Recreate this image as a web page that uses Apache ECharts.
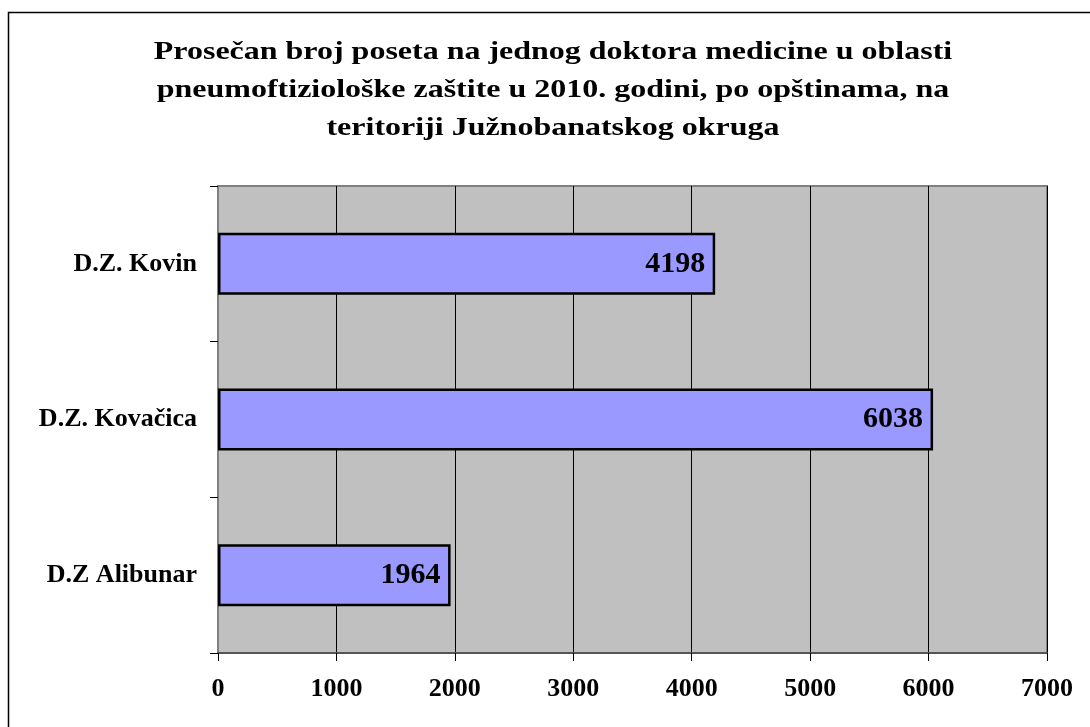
<!DOCTYPE html>
<html>
<head>
<meta charset="utf-8">
<script src="https://cdn.jsdelivr.net/npm/echarts@6/dist/echarts.min.js"></script>
<style>
  html, body { margin: 0; padding: 0; background: #fff; }
  #chart { width: 1090px; height: 727px; }
</style>
</head>
<body>
<div id="chart"></div>
<script>
// categories bottom-to-top (ECharts category y axis starts at the bottom)
const categories = ["D.Z Alibunar", "D.Z. Kovačica", "D.Z. Kovin"];
const visits = [1964, 6038, 4198];
const xTicks = [0, 1000, 2000, 3000, 4000, 5000, 6000, 7000];

const titleLines = [
  "Prosečan broj poseta na jednog doktora medicine u oblasti",
  "pneumoftiziološke zaštite u 2010. godini, po opštinama, na",
  "teritoriji Južnobanatskog okruga",
];

const FONT = "Liberation Serif";

const chart = echarts.init(document.getElementById("chart"));

// the title in the original is set wide, so it is drawn as stretched text
const titleGraphics = titleLines.map((line, i) => ({
  type: "text",
  x: 553,
  y: 52 + i * 38,
  scaleX: 1.23,
  silent: true,
  style: {
    text: line,
    align: "center",
    verticalAlign: "middle",
    fill: "#000",
    font: "bold 26px '" + FONT + "'",
  },
}));

chart.setOption({
  animation: false,
  backgroundColor: "#fff",
  textStyle: { fontFamily: FONT },
  graphic: [
    {
      type: "rect",
      shape: { x: 8.5, y: 12.5, width: 1200, height: 900 },
      style: { fill: "none", stroke: "#000", lineWidth: 1.5 },
      silent: true,
    },
    ...titleGraphics,
  ],
  grid: {
    left: 218,
    top: 186,
    right: 43,
    bottom: 74,
    show: true,
    backgroundColor: "#c0c0c0",
    borderColor: "#808080",
    borderWidth: 2,
  },
  xAxis: {
    type: "value",
    min: xTicks[0],
    max: xTicks[xTicks.length - 1],
    interval: 1000,
    axisLine: { show: true, lineStyle: { color: "#555", width: 2 } },
    axisTick: { show: true, length: 8, lineStyle: { color: "#000", width: 1 } },
    splitLine: { show: true, lineStyle: { color: "#000", width: 1 } },
    axisLabel: {
      margin: 23,
      color: "#000",
      fontFamily: FONT,
      fontWeight: "bold",
      fontSize: 26,
      formatter: (v) => String(v),
    },
  },
  yAxis: {
    type: "category",
    data: categories,
    axisLine: { show: true, lineStyle: { color: "#808080", width: 2 } },
    axisTick: { show: true, length: 8, inside: false, lineStyle: { color: "#000", width: 1 } },
    axisLabel: {
      margin: 21,
      color: "#000",
      fontFamily: FONT,
      fontWeight: "bold",
      fontSize: 26,
    },
  },
  series: [
    {
      type: "bar",
      data: visits,
      barWidth: 62,
      itemStyle: { color: "#9999ff", borderColor: "#000", borderWidth: 2.5 },
      label: {
        show: true,
        position: "insideRight",
        distance: 10,
        color: "#000",
        fontFamily: FONT,
        fontWeight: "bold",
        fontSize: 30,
      },
    },
  ],
});
</script>
</body>
</html>
